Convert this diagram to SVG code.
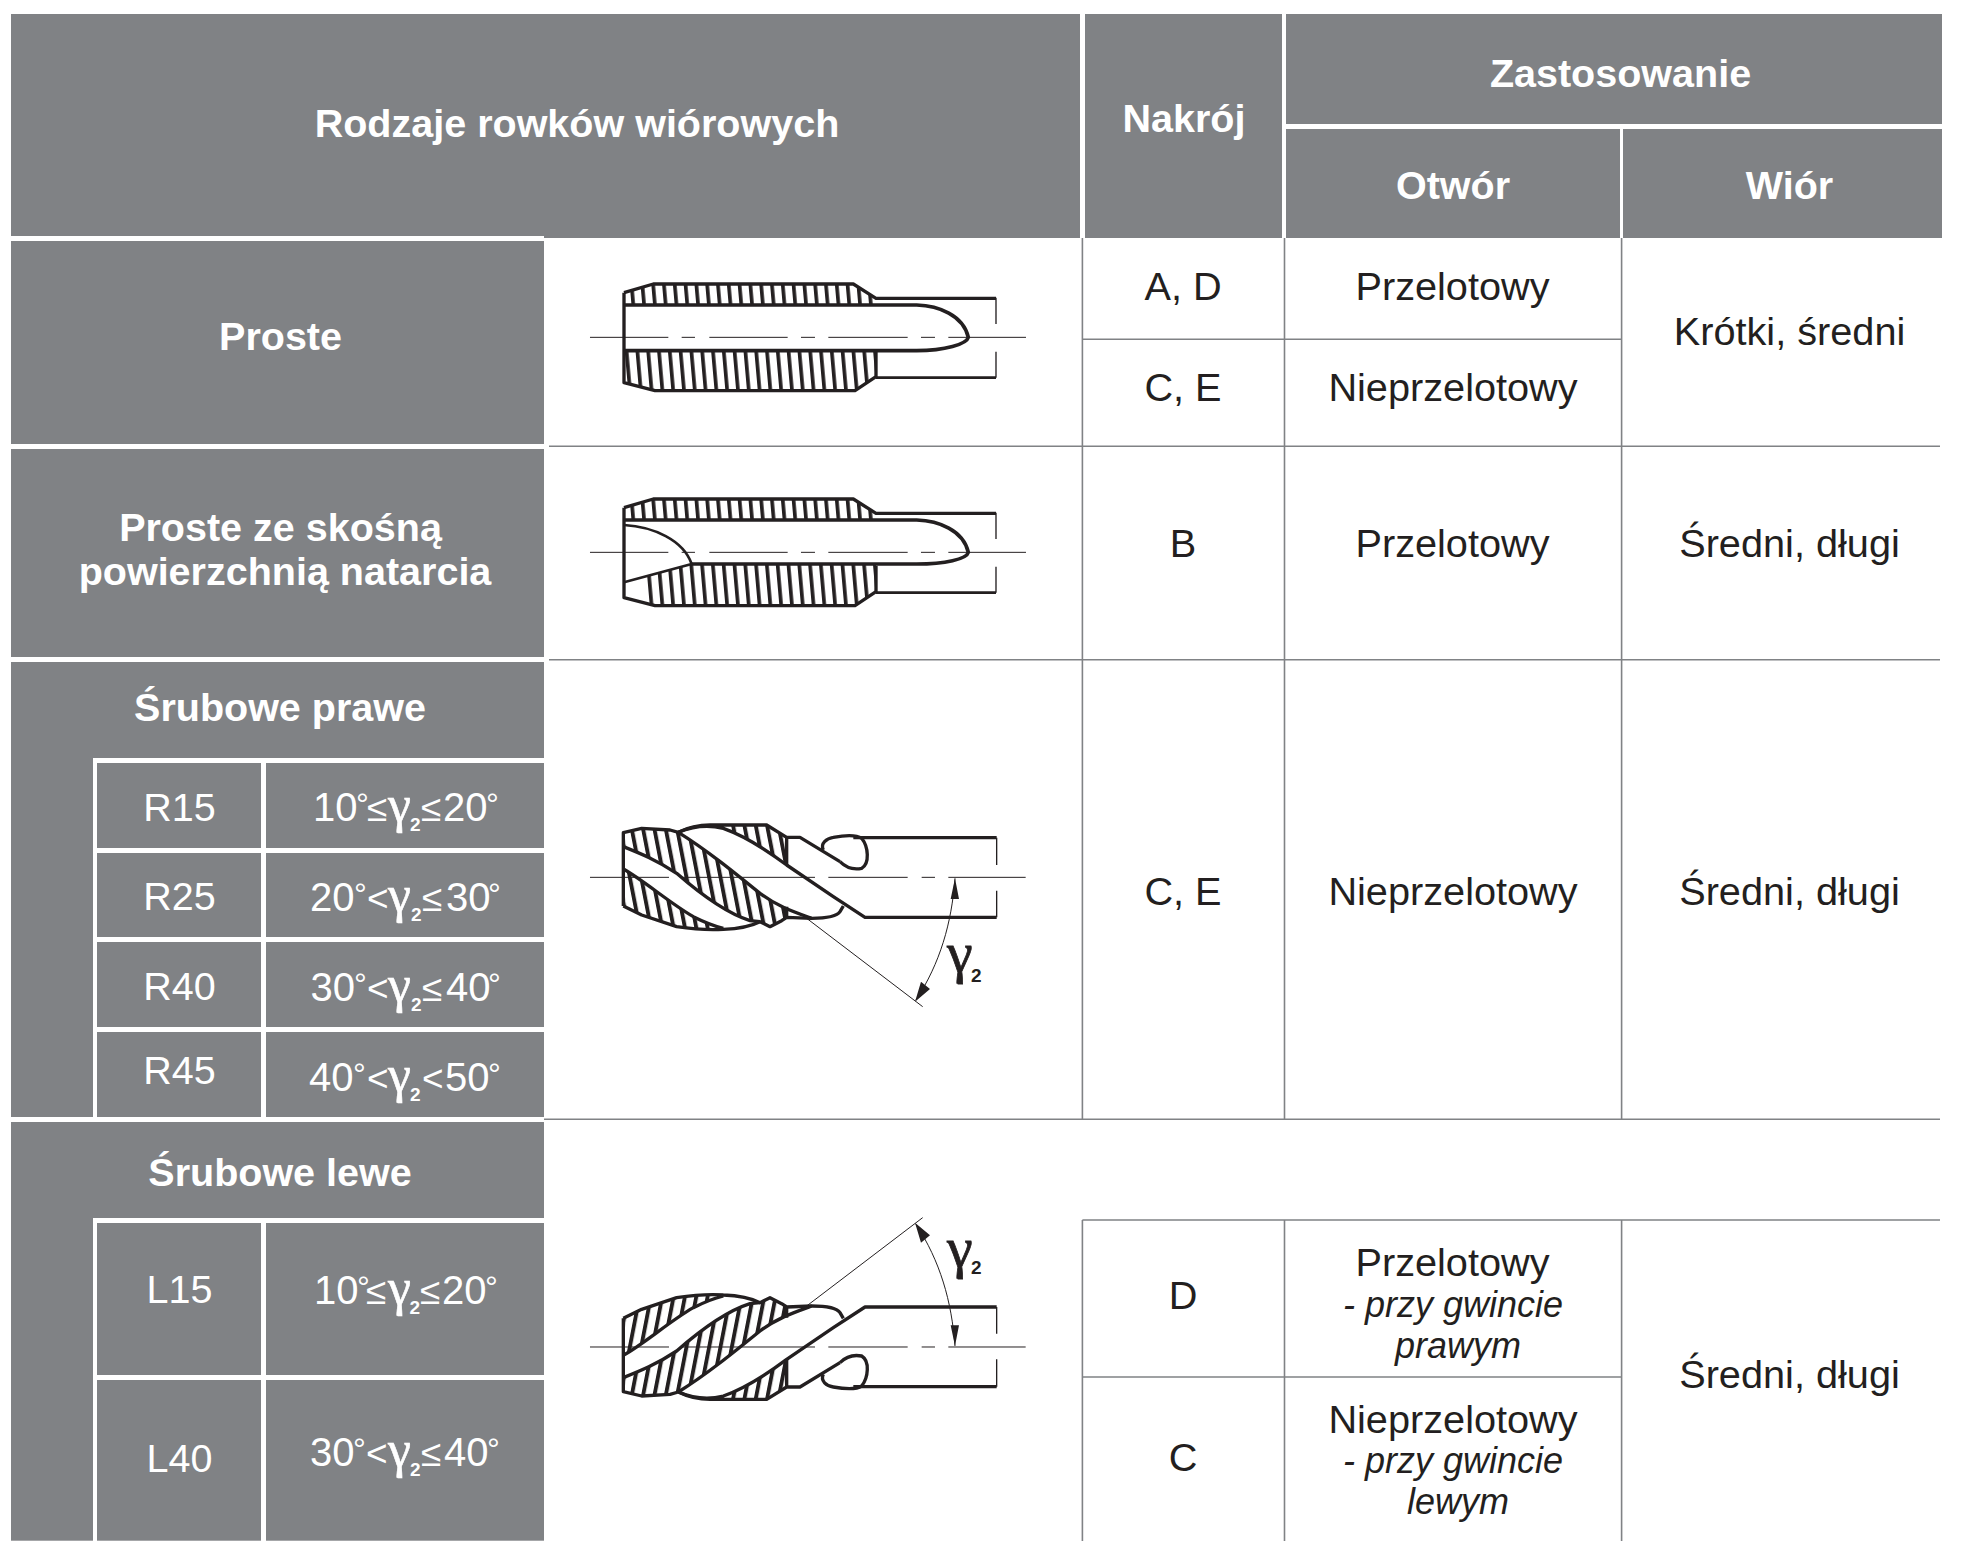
<svg xmlns="http://www.w3.org/2000/svg" width="1964" height="1550" viewBox="0 0 1964 1550">
<style>
text{font-family:"Liberation Sans",Arial,sans-serif}
.h{font-size:39.5px;font-weight:bold;fill:#fff;text-anchor:middle}
.w{font-size:39.5px;fill:#fff;text-anchor:middle}
.m{font-size:40px;fill:#fff}
.d{font-size:32px}
.o{font-size:37px}
.g{font-family:"Liberation Serif",serif;font-size:52px;stroke:#fff;stroke-width:.6}
.s{font-size:19px;font-weight:bold}
.b{font-size:39.7px;fill:#231f20;text-anchor:middle}
.i{font-size:36px;font-style:italic;fill:#231f20;text-anchor:middle}
.cell{fill:#808285}
.bar{fill:#fff}
.thin{stroke:#808285;stroke-width:1.6;fill:none}
.k{fill:none;stroke:#231f20;stroke-width:10;stroke-linejoin:round}
.kt{fill:none;stroke:#231f20;stroke-width:3}
.hat{fill:url(#hatch);stroke:none}
.hat2{fill:url(#hatch2);stroke:none}
.ag{font-family:"Liberation Serif",serif;font-size:58px;fill:#231f20;stroke:#231f20;stroke-width:.8}
.a2{font-size:19px;font-weight:bold;fill:#231f20}
</style>
<defs>
<pattern id="hatch" patternUnits="userSpaceOnUse" width="32.4" height="400" patternTransform="translate(257.4 0) skewX(5)"><rect width="11" height="400" fill="#231f20"/></pattern>
<pattern id="hatch2" patternUnits="userSpaceOnUse" width="34" height="600" patternTransform="translate(226.5 0) skewX(11)"><rect width="12" height="600" fill="#231f20"/></pattern>
<g id="straightBody">
<path class="hat" d="M252 158L340 132H940L1008 175V195H252Z"/>
<path class="k" d="M252 158L340 132H940L1008 175H1368"/>
<path class="k" style="stroke-width:8" d="M1008 413H1368"/>
<path class="k" style="stroke-width:4" d="M1368 173V252M1368 335V413"/>
<path class="kt" d="M150 292H385M425 292H465M508 292H743M783 292H825M865 292H1103M1143 292H1185M1225 292H1458"/>
</g>
<g id="spiral">
<path class="hat2" d="M190 98L245 85L330 90L355 97C440 150 520 215 600 280C630 302 655 315 680 325V355L665 362L630 380L600 365L570 362C500 340 430 290 350 220C290 180 240 160 190 140Z"/>
<path class="hat2" d="M190 207C250 240 330 310 400 350C440 370 470 380 490 385L430 388L350 380L245 345L190 318Z"/>
<path class="hat2" d="M430 75H620L680 112V195C620 150 560 110 490 85Z"/>
<path class="k" d="M190 318V98L245 85L330 90L355 97C385 82 420 75 450 75H620L680 112H720L840 185"/>
<path class="k" d="M355 97C400 78 450 75 490 85C560 110 620 150 680 195L820 290L915 352H1310"/>
<path class="k" d="M355 97C440 150 520 215 600 280C650 318 700 335 755 355C790 355 830 350 840 335L850 318"/>
<path class="k" d="M190 318L245 345L350 380Q430 392 490 388Q560 385 600 365L630 380L665 362L680 352L755 355"/>
<path class="k" d="M190 140C240 160 290 180 350 220C430 290 500 340 570 362L600 365"/>
<path class="k" d="M190 207C250 240 330 310 400 350C440 370 470 380 490 385"/>
<path class="k" d="M680 112V195M680 320V355"/>
<path class="k" d="M790 150C780 130 800 115 820 112C860 105 890 105 905 115C925 140 930 190 905 205C880 210 860 205 840 185"/>
<path class="k" d="M880 113H1310"/>
<path class="k" style="stroke-width:4" d="M1310 113V195M1310 272V352"/>
<path class="kt" d="M90 232H327M367 232H765M805 232H1043M1085 232H1125M1165 232H1397"/>
<path class="kt" d="M740 355L1088 620M1185 235C1175 370 1140 490 1068 600"/>
<path fill="#231f20" d="M1185 235L1172 297H1197ZM1065 605L1083 545L1110 567Z"/>
</g>
</defs>
<rect width="1964" height="1550" fill="#fff"/>
<g id="header">
<rect class="cell" x="11" y="14" width="533" height="222"/>
<rect class="cell" x="544" y="14" width="536" height="224"/>
<rect class="cell" x="1085" y="14" width="197" height="224"/>
<rect class="cell" x="1286" y="14" width="656" height="110"/>
<rect class="cell" x="1286" y="129" width="334" height="109"/>
<rect class="cell" x="1623" y="129" width="319" height="109"/>
<text class="h" x="577" y="136.5">Rodzaje rowków wiórowych</text>
<text class="h" x="1184" y="131.5">Nakrój</text>
<text class="h" x="1620.5" y="86.5">Zastosowanie</text>
<text class="h" x="1453" y="199">Otwór</text>
<text class="h" x="1789.5" y="199">Wiór</text>
</g>
<g id="connectors">
<path class="thin" d="M1082.4 238V1119M1284.5 238V1119M1621.6 238V1119M1082.4 1220V1541M1284.5 1220V1541M1621.6 1220V1541"/>
<path class="thin" d="M1082.4 339.3H1621.6M549 446.3H1940M549 659.7H1940M544 1119.3H1940M1082.4 1220H1940M1082.4 1377H1621.6"/>
</g>
<g id="row-proste">
<rect class="cell" x="11" y="241" width="533" height="203"/>
<text class="h" x="280.5" y="350">Proste</text>
<g transform="translate(540 240) scale(.33333)">
<use href="#straightBody"/>
<path class="hat" d="M252 332H1008V410L945 452H345L252 428Z"/>
<path class="k" d="M252 158V428L345 452H945L1008 410V332"/>
<path class="k" style="stroke-width:11" d="M252 195H1130C1195 197 1270 225 1285 292C1280 312 1215 332 1130 332H252"/>
</g>
<text class="b" x="1183" y="300">A, D</text>
<text class="b" x="1452.5" y="300">Przelotowy</text>
<text class="b" x="1183" y="400.5">C, E</text>
<text class="b" x="1453" y="400.5">Nieprzelotowy</text>
<text class="b" x="1789.5" y="345">Krótki, średni</text>
</g>
<g id="row-proste-skosna">
<rect class="cell" x="11" y="449" width="533" height="208"/>
<text class="h" x="280.5" y="541">Proste ze skośną</text>
<text class="h" x="285" y="585">powierzchnią natarcia</text>
<g transform="translate(540 455) scale(.33333)">
<use href="#straightBody"/>
<path class="hat" d="M320 363L455 327H1008V410L945 452H345L320 445Z"/>
<path class="k" d="M252 158V428L345 452H945L1008 410V332"/>
<path class="k" style="stroke-width:11" d="M252 195H1130C1195 197 1270 225 1285 292C1280 312 1215 327 1130 327H455"/>
<path class="k" style="stroke-width:8" d="M252 210C340 215 430 255 455 327L252 382"/>
</g>
<text class="b" x="1183" y="557">B</text>
<text class="b" x="1452.5" y="557">Przelotowy</text>
<text class="b" x="1789.5" y="557">Średni, długi</text>
</g>
<g id="row-srubowe-prawe">
<rect class="cell" x="11" y="662" width="533" height="455"/>
<rect class="bar" x="93" y="758" width="4" height="359"/>
<rect class="bar" x="261" y="758" width="5" height="359"/>
<rect class="bar" x="93" y="758" width="451" height="5"/>
<rect class="bar" x="93" y="848" width="451" height="5"/>
<rect class="bar" x="93" y="937" width="451" height="5"/>
<rect class="bar" x="93" y="1027" width="451" height="5"/>
<text class="h" x="280" y="721">Śrubowe prawe</text>
<text class="w" x="179.5" y="821">R15</text>
<text class="w" x="179.5" y="910">R25</text>
<text class="w" x="179.5" y="1000">R40</text>
<text class="w" x="179.5" y="1084">R45</text>
<text class="m"><tspan x="313" y="821">10</tspan><tspan class="d" x="356" y="815">°</tspan><tspan class="o" x="367" y="821">≤</tspan><tspan class="g" x="388" y="822">γ</tspan><tspan class="s" x="410" y="831">2</tspan><tspan class="o" x="421" y="821">≤</tspan><tspan x="443" y="821">20</tspan><tspan class="d" x="486" y="815">°</tspan></text>
<text class="m"><tspan x="310" y="910.5">20</tspan><tspan class="d" x="354" y="904.5">°</tspan><tspan class="o" x="367" y="910.5">&lt;</tspan><tspan class="g" x="388" y="911.5">γ</tspan><tspan class="s" x="411" y="920.5">2</tspan><tspan class="o" x="422" y="910.5">≤</tspan><tspan x="446" y="910.5">30</tspan><tspan class="d" x="488" y="904.5">°</tspan></text>
<text class="m"><tspan x="310.5" y="1000.5">30</tspan><tspan class="d" x="354" y="994.5">°</tspan><tspan class="o" x="367" y="1000.5">&lt;</tspan><tspan class="g" x="388" y="1001.5">γ</tspan><tspan class="s" x="411" y="1010.5">2</tspan><tspan class="o" x="422" y="1000.5">≤</tspan><tspan x="446" y="1000.5">40</tspan><tspan class="d" x="488" y="994.5">°</tspan></text>
<text class="m"><tspan x="309" y="1090.5">40</tspan><tspan class="d" x="353" y="1084.5">°</tspan><tspan class="o" x="367" y="1090.5">&lt;</tspan><tspan class="g" x="388" y="1091.5">γ</tspan><tspan class="s" x="410" y="1100.5">2</tspan><tspan class="o" x="422" y="1090.5">&lt;</tspan><tspan x="445" y="1090.5">50</tspan><tspan class="d" x="488" y="1084.5">°</tspan></text>
<use href="#spiral" transform="translate(560 800) scale(.33333)"/>
<text class="ag" x="947" y="972">γ</text>
<text class="a2" x="971" y="981.7">2</text>
<text class="b" x="1183" y="905">C, E</text>
<text class="b" x="1453" y="905">Nieprzelotowy</text>
<text class="b" x="1789.5" y="905">Średni, długi</text>
</g>
<g id="row-srubowe-lewe">
<rect class="cell" x="11" y="1122" width="533" height="418.7"/>
<rect class="bar" x="93" y="1218" width="4" height="323"/>
<rect class="bar" x="261" y="1218" width="5" height="323"/>
<rect class="bar" x="93" y="1218" width="451" height="5"/>
<rect class="bar" x="97" y="1375" width="447" height="5"/>
<text class="h" x="280" y="1186">Śrubowe lewe</text>
<text class="w" x="179.5" y="1303">L15</text>
<text class="w" x="179.5" y="1472">L40</text>
<text class="m"><tspan x="314" y="1304">10</tspan><tspan class="d" x="357" y="1298">°</tspan><tspan class="o" x="366" y="1304">≤</tspan><tspan class="g" x="388" y="1305">γ</tspan><tspan class="s" x="409.5" y="1314">2</tspan><tspan class="o" x="420" y="1304">≤</tspan><tspan x="442" y="1304">20</tspan><tspan class="d" x="485" y="1298">°</tspan></text>
<text class="m"><tspan x="310" y="1465.7">30</tspan><tspan class="d" x="353" y="1459.7">°</tspan><tspan class="o" x="366" y="1465.7">&lt;</tspan><tspan class="g" x="388" y="1466.7">γ</tspan><tspan class="s" x="410" y="1475.7">2</tspan><tspan class="o" x="421" y="1465.7">≤</tspan><tspan x="444" y="1465.7">40</tspan><tspan class="d" x="487" y="1459.7">°</tspan></text>
<use href="#spiral" transform="translate(560 1200) scale(.33333) matrix(1 0 0 -1 0 673)"/>
<text class="ag" x="947" y="1267">γ</text>
<text class="a2" x="971" y="1274">2</text>
<text class="b" x="1183" y="1309">D</text>
<text class="b" x="1452.5" y="1276">Przelotowy</text>
<text class="i" x="1453" y="1316.5">- przy gwincie</text>
<text class="i" x="1458" y="1357.5">prawym</text>
<text class="b" x="1183" y="1471">C</text>
<text class="b" x="1453" y="1432.5">Nieprzelotowy</text>
<text class="i" x="1453" y="1473">- przy gwincie</text>
<text class="i" x="1458" y="1514">lewym</text>
<text class="b" x="1789.5" y="1388">Średni, długi</text>
</g>
</svg>
